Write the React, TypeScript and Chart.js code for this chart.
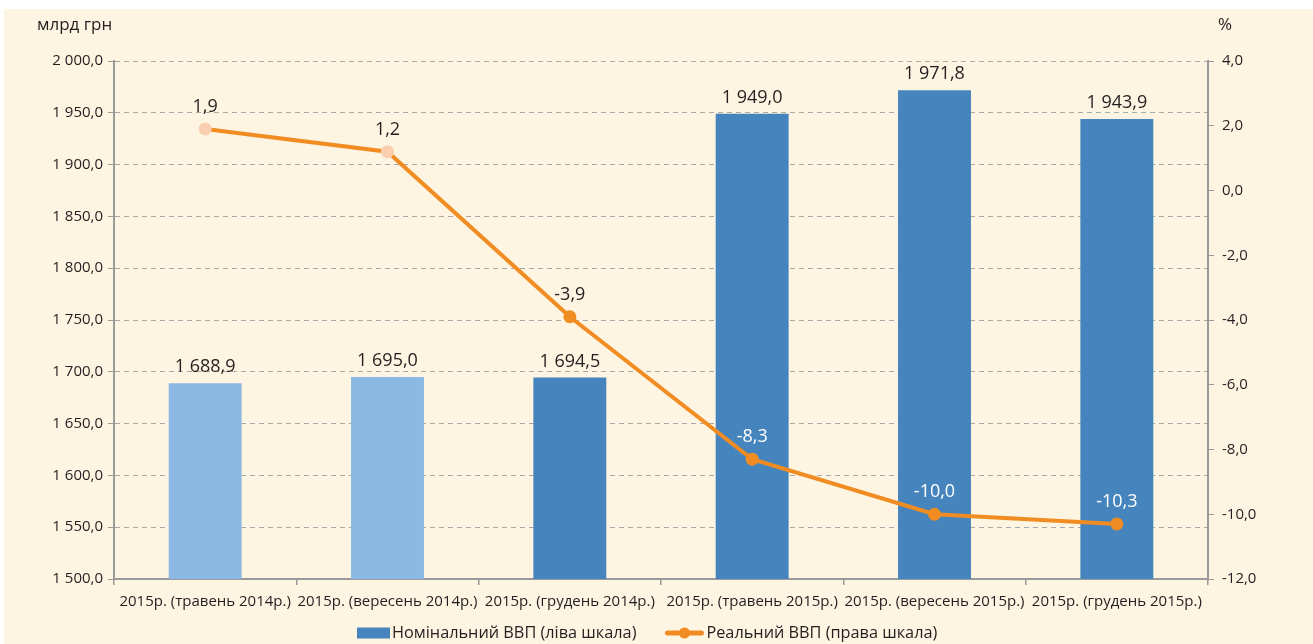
import React, { useEffect, useRef } from "react";
import { Chart, registerables } from "chart.js";

Chart.register(...registerables);

const categories = [
  "2015р. (травень 2014р.)",
  "2015р. (вересень 2014р.)",
  "2015р. (грудень 2014р.)",
  "2015р. (травень 2015р.)",
  "2015р. (вересень 2015р.)",
  "2015р. (грудень 2015р.)",
];
const nominalGdp = [1688.9, 1695.0, 1694.5, 1949.0, 1971.8, 1943.9];
const realGdp = [1.9, 1.2, -3.9, -8.3, -10.0, -10.3];
const barColors = ["#8cb9e3", "#8cb9e3", "#4684bd", "#4684bd", "#4684bd", "#4684bd"];
const pointColors = ["#f9cfb0", "#f9cfb0", "#f08c22", "#f08c22", "#f08c22", "#f08c22"];
const lineLabelColors = ["#231f20", "#231f20", "#231f20", "#ffffff", "#ffffff", "#ffffff"];
const seriesNames = ["Номінальний ВВП (ліва шкала)", "Реальний ВВП (права шкала)"];
const leftTitle = "млрд грн";
const rightTitle = "%";

const FONT = "'Open Sans', 'Noto Sans', sans-serif";
const TEXT = "#231f20";
const W = 1309;
const H = 635;

const fmtLeft = (v: number) => {
  const s = v.toFixed(1).replace(".", ",");
  const [i, d] = s.split(",");
  return i.replace(/\B(?=(\d{3})+(?!\d))/g, " ") + "," + d;
};
const fmtRight = (v: number) => v.toFixed(1).replace(".", ",");

const extrasPlugin = {
  id: "extras",
  afterDatasetsDraw(chart: any) {
    const ctx = chart.ctx;
    ctx.save();
    ctx.font = `18px ${FONT}`;
    ctx.textAlign = "center";
    ctx.textBaseline = "middle";
    const barMeta = chart.getDatasetMeta(0);
    barMeta.data.forEach((el: any, i: number) => {
      ctx.fillStyle = TEXT;
      ctx.fillText(fmtLeft(nominalGdp[i]), el.x, el.y - 16);
    });
    const lineMeta = chart.getDatasetMeta(1);
    lineMeta.data.forEach((el: any, i: number) => {
      ctx.fillStyle = lineLabelColors[i];
      ctx.fillText(fmtRight(realGdp[i]), el.x, el.y - 22);
    });
    ctx.restore();
  },
  afterDraw(chart: any) {
    const ctx = chart.ctx;
    ctx.save();
    ctx.fillStyle = TEXT;
    ctx.font = `17px ${FONT}`;
    ctx.textBaseline = "middle";
    ctx.textAlign = "left";
    ctx.fillText(leftTitle, 33, 16);
    ctx.fillText(rightTitle, 1214, 16);

    // legend
    ctx.font = `16.3px ${FONT}`;
    const y = 624;
    const rectW = 33;
    const lineW = 38;
    const w1 = ctx.measureText(seriesNames[0]).width;
    let x = 353;
    ctx.fillStyle = "#4684bd";
    ctx.fillRect(x, y - 5.5, rectW, 11);
    x += rectW + 2;
    ctx.fillStyle = TEXT;
    ctx.fillText(seriesNames[0], x, y);
    x += w1 + 29;
    ctx.strokeStyle = "#f08c22";
    ctx.lineWidth = 5;
    ctx.lineCap = "round";
    ctx.beginPath();
    ctx.moveTo(x + 2, y);
    ctx.lineTo(x + lineW - 2, y);
    ctx.stroke();
    ctx.fillStyle = "#f08c22";
    ctx.beginPath();
    ctx.arc(x + lineW / 2, y, 5.5, 0, Math.PI * 2);
    ctx.fill();
    x += lineW + 3;
    ctx.fillStyle = TEXT;
    ctx.fillText(seriesNames[1], x, y);
    ctx.restore();
  },
};

export default function App() {
  const ref = useRef<HTMLCanvasElement | null>(null);
  useEffect(() => {
    if (!ref.current) return;
    const chart = new Chart(ref.current, {
      type: "bar",
      data: {
        labels: categories,
        datasets: [
          {
            type: "bar",
            label: seriesNames[0],
            data: nominalGdp,
            backgroundColor: barColors,
            yAxisID: "y",
            categoryPercentage: 1,
            barPercentage: 0.4,
            order: 2,
          },
          {
            type: "line",
            label: seriesNames[1],
            data: realGdp,
            borderColor: "#f08c22",
            borderWidth: 4,
            pointRadius: 6.5,
            pointBackgroundColor: pointColors,
            pointBorderWidth: 0,
            yAxisID: "y1",
            tension: 0,
            order: 1,
          } as any,
        ],
      },
      options: {
        responsive: false,
        animation: false,
        layout: { padding: { top: 52, left: 0, right: 0, bottom: 0 } },
        plugins: { legend: { display: false }, tooltip: { enabled: false } },
        scales: {
          x: {
            offset: true,
            grid: {
              offset: true,
              drawOnChartArea: false,
              drawTicks: true,
              tickLength: 6,
              color: "#9a9a9a",
              lineWidth: 1.5,
            },
            border: { color: "#9a9a9a", width: 2 },
            ticks: {
              color: TEXT,
              font: { family: FONT, size: 15 },
              padding: 8,
              maxRotation: 0,
              minRotation: 0,
              autoSkip: false,
            },
            afterFit: (s: any) => {
              s.height = H - 570;
            },
          },
          y: {
            position: "left",
            min: 1500,
            max: 2000,
            ticks: {
              stepSize: 50,
              color: TEXT,
              font: { family: FONT, size: 15 },
              padding: 5,
              callback: (v: any) => fmtLeft(Number(v)),
            },
            grid: {
              color: "#a8a8a8",
              lineWidth: 1,
              tickLength: 6,
              tickColor: "#9a9a9a",
            },
            border: { color: "#9a9a9a", width: 2, dash: [5, 4] },
            afterFit: (s: any) => {
              s.width = 110;
            },
          },
          y1: {
            position: "right",
            min: -12,
            max: 4,
            ticks: {
              stepSize: 2,
              color: TEXT,
              font: { family: FONT, size: 15 },
              padding: 8,
              callback: (v: any) => fmtRight(Number(v)),
            },
            grid: {
              drawOnChartArea: false,
              tickLength: 6,
              color: "#9a9a9a",
            },
            border: { color: "#9a9a9a", width: 2 },
            afterFit: (s: any) => {
              s.width = W - 1204;
            },
          },
        },
      },
      plugins: [extrasPlugin],
    });
    return () => chart.destroy();
  }, []);

  return (
    <div
      style={{
        position: "fixed",
        left: 4,
        top: 9,
        width: W,
        height: H,
        background: "#fdf4e1",
      }}
    >
      <canvas ref={ref} width={W} height={H} style={{ width: W, height: H, display: "block" }} />
    </div>
  );
}
